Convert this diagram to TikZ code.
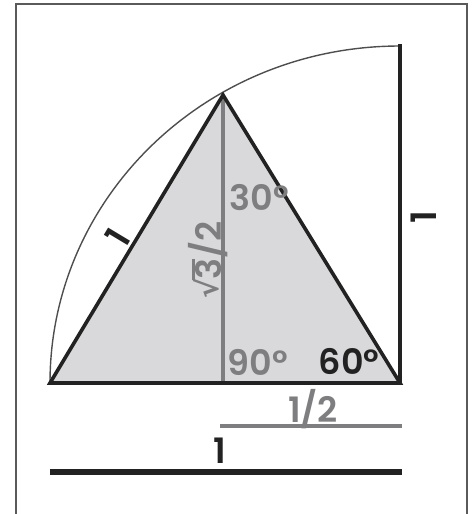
\documentclass[tikz,border=0pt]{standalone}
\usepackage{fontspec}
\setmainfont{Poppins}[BoldFont={* SemiBold}]
\newfontfamily\radfont{DejaVu Sans}
\definecolor{fillgray}{HTML}{D9D9DB}
\definecolor{txtgray}{HTML}{7E7E80}
\definecolor{inkdark}{HTML}{222222}
\definecolor{framegray}{HTML}{5A5A5A}
\tikzset{
  edge/.style={draw=inkdark, line width=3.6pt, line join=miter},
  graylbl/.style={text=txtgray, font=\fontsize{35}{36}\selectfont\bfseries, inner sep=0pt},
  darklbl/.style={text=inkdark, font=\fontsize{35}{36}\selectfont\bfseries, inner sep=0pt},
}
\begin{document}
\begin{tikzpicture}[x=1pt,y=-1pt]
\useasboundingbox (0,0) rectangle (472,514);
% frame
\coordinate (f1) at (16,514);
\coordinate (f2) at (16,4);
\coordinate (f3) at (467,4);
\coordinate (f4) at (467,514);
\draw[framegray, line width=1.4pt] (f1) -- (f2) -- (f3) -- (f4);
% points
\coordinate (A) at (50,383);
\coordinate (B) at (400,383);
\coordinate (C) at (223,95);
\coordinate (D) at (223,383);
\coordinate (T) at (400,46);
% triangle
\fill[fillgray] (A) -- (B) -- (C) -- cycle;
% arc
\draw[inkdark!80, line width=1.4pt] (A) arc[start angle=180, end angle=90, x radius=350pt, y radius=337pt];
% altitude
\draw[txtgray, line width=3.2pt] (C) -- (D);
% triangle edges
\draw[edge] (A) -- (B) -- (C) -- cycle;
% right vertical
\draw[edge, line cap=rect] (T) -- (B);
% labels
\node[graylbl] (l30) at (259,198) {30°};
\node[graylbl] (l90) at (258,362) {90°};
\node[darklbl] (l60) at (349,361) {60°};
\node[graylbl, rotate=90] (lsq) at (208,260) {\raisebox{2.5pt}{\radfont\fontsize{30}{30}\selectfont √}\kern-1.2pt\vbox{\hrule height 2.2pt\kern 0.6pt\hbox{3}}/2};
\node[darklbl, rotate=59] (lone) at (118,237) {1};
\node[darklbl, rotate=90] (rone) at (424,217) {1};
% bottom bars
\coordinate (h1) at (220,426);
\coordinate (h2) at (402,426);
\draw[txtgray, line width=3.2pt] (h1) -- (h2);
\node[graylbl] (lhalf) at (313,409) {1/2};
\coordinate (w1) at (50,472);
\coordinate (w2) at (402,472);
\draw[inkdark, line width=5.5pt] (w1) -- (w2);
\node[darklbl] (lw) at (220,451) {1};
\end{tikzpicture}
\end{document}
